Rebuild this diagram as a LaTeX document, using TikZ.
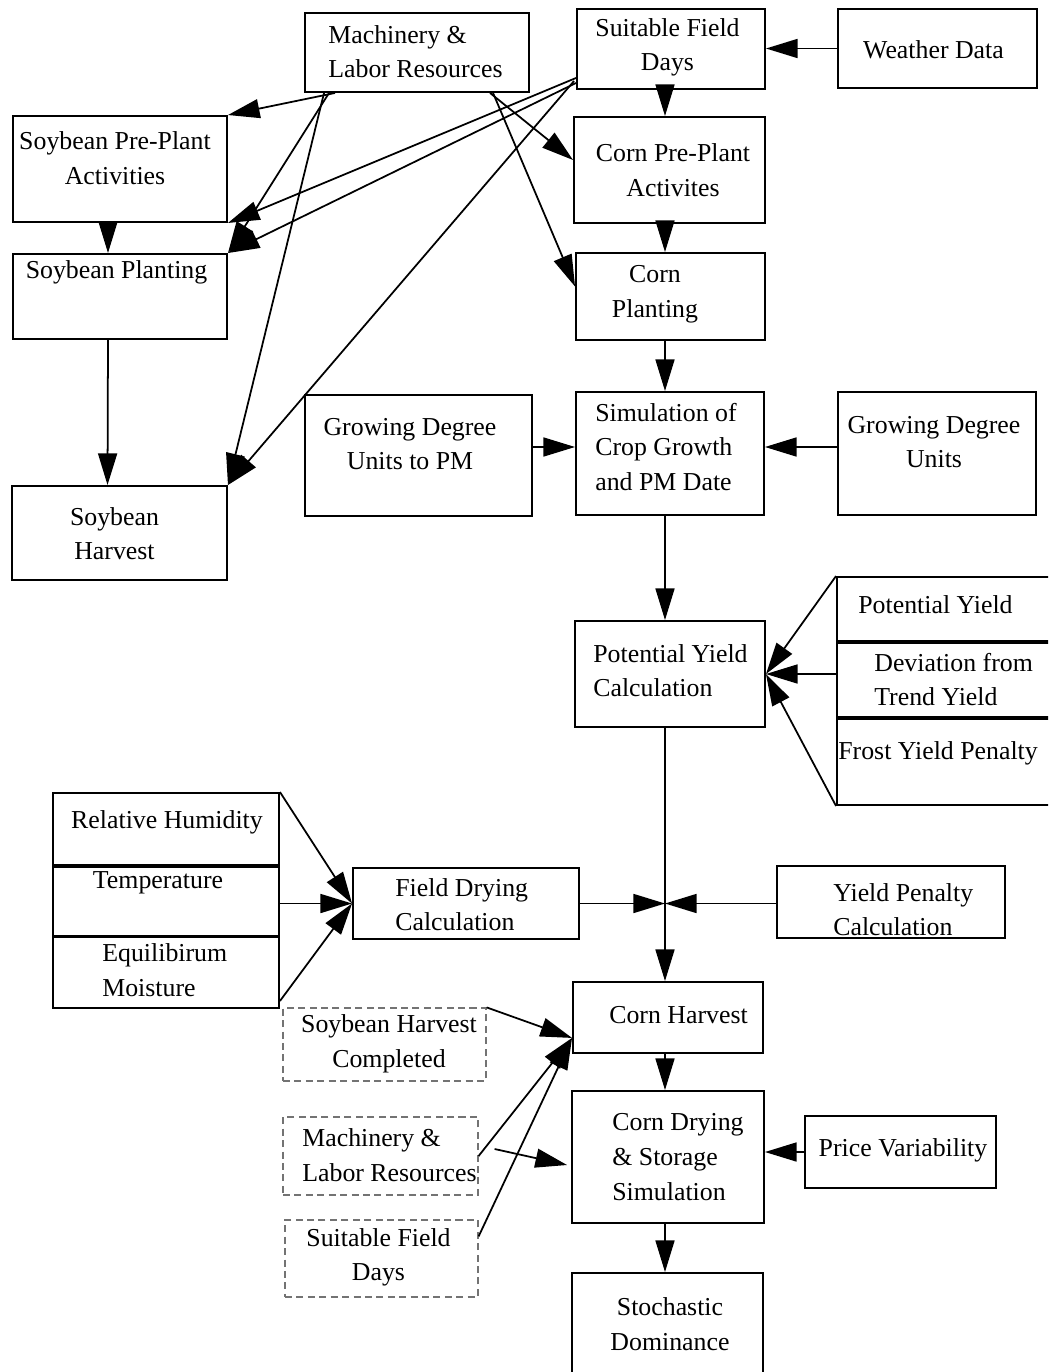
\documentclass[tikz,border=0pt]{standalone}
\usepackage{fontspec}
\setmainfont{Liberation Serif}
\usetikzlibrary{arrows.meta,fit,calc}

\tikzset{
    box/.style={draw, line width=1.1pt, inner sep=0pt},
    dbox/.style={draw=black!55, line width=0.7pt, dash pattern=on 4pt off 2.5pt, inner sep=0pt},
    txt/.style={inner sep=0pt, font=\fontsize{14.7}{19.7}\selectfont},
    ltxt/.style={txt, anchor=west, align=left},
    ctxt/.style={txt, align=center},
    arr/.style={line width=1pt, -{Triangle[length=18pt,width=10.8pt]}}
}

\begin{document}
\begin{tikzpicture}[
    x=0.02cm,
    y=-0.02cm
]

\useasboundingbox (0,0) rectangle (1048,1372);
\clip (0,0) rectangle (1048,1372);

% Boxes: name, corners x1/y1/x2/y2
\foreach \n/\xa/\ya/\xb/\yb in {
    mach/305/13/529/92,
    sfd/577/9/765/89,
    wd/838/9/1037/88,
    spp/13/116/227/222,
    cpp/574/117/765/223,
    sp/13/254/227/339,
    cp/576/253/765/340,
    gdupm/305/395/532/516,
    sim/576/392/764/515,
    gdu/838/392/1036/515,
    sh/12/486/227/580,
    pyc/575/621/765/727,
    py/837/577/1070/641,
    dev/837/643/1070/717,
    frost/837/719/1070/805,
    rh/53/793/279/865,
    temp/53/867/279/936,
    eq/53/937/279/1008,
    fd/353/868/579/939,
    yp/777/866/1005/938,
    ch/573/982/763/1053,
    cd/572/1091/764/1223,
    pv/805/1116/996/1188,
    sd/572/1273/763/1400
} {
    \node[box, fit={(\xa,\ya) (\xb,\yb)}] (\n) {};
}

% Dashed boxes
\foreach \n/\xa/\ya/\xb/\yb in {
    shc/283/1008/486/1081,
    mld/283/1117/478/1195,
    sfdd/285/1220/478/1297
} {
    \node[dbox, fit={(\xa,\ya) (\xb,\yb)}] (\n) {};
}

% Texts
\node[ltxt] (mach-t) at (328,51.5) {Machinery \&\\Labor Resources};
\node[ctxt] (sfd-t) at (667.5,47.5) {Suitable Field\\Days};
\node[ctxt] (wd-t) at (933.5,50) {Weather Data};
\node[ctxt] (spp-t) at (115,158) {Soybean Pre-Plant\\Activities};
\node[ctxt] (cpp-t) at (673,170) {Corn Pre-Plant\\Activites};
\node[ctxt] (sp-t) at (116.5,272) {Soybean Planting};
\node[ctxt] (cp-t) at (655,294.5) {Corn\\Planting};
\node[ctxt] (gdupm-t) at (410,444) {Growing Degree\\Units to PM};
\node[ltxt] (sim-t) at (595,447) {Simulation of\\Crop Growth\\and PM Date};
\node[ctxt] (gdu-t) at (934,442) {Growing Degree\\Units};
\node[ctxt] (sh-t) at (114.5,533.5) {Soybean\\Harvest};
\node[ltxt] (pyc-t) at (593,670.5) {Potential Yield\\Calculation};
\node[ltxt] (py-t) at (858,605) {Potential Yield};
\node[ltxt] (dev-t) at (874,679.5) {Deviation from\\Trend Yield};
\node[ltxt] (frost-t) at (838,753) {Frost Yield Penalty};
\node[ctxt] (rh-t) at (167,822) {Relative Humidity};
\node[ctxt] (temp-t) at (158,883) {Temperature};
\node[ltxt] (eq-t) at (102,970) {Equilibirum\\Moisture};
\node[ltxt] (fd-t) at (395,904.5) {Field Drying\\Calculation};
\node[ltxt] (yp-t) at (833,909.5) {Yield Penalty\\Calculation};
\node[ctxt] (ch-t) at (678.5,1015) {Corn Harvest};
\node[ltxt] (cd-t) at (612,1157) {Corn Drying\\\& Storage\\Simulation};
\node[ctxt] (pv-t) at (903,1150) {Price Variability};
\node[ctxt] (sd-t) at (670,1324) {Stochastic\\Dominance};
\node[ctxt] (shc-t) at (389,1043.5) {Soybean Harvest\\Completed};
\node[ltxt] (mld-t) at (302,1155) {Machinery \&\\Labor Resources};
\node[ctxt] (sfdd-t) at (378.5,1257.5) {Suitable Field\\Days};

% Helper points
\coordinate (col) at (665,0);
\coordinate (gd) at (0,447);
\coordinate (jn) at (col |- fd.east);
\coordinate (chin) at ($(ch.south west)!0.22!(ch.north west)$);

% Soybean side
\draw[arr] ($(mach.south west)+(31,0)$) -- (spp.north east);
\draw[arr] ($(mach.south west)+(25,0)$) -- (sp.north east);
\draw[arr] ($(mach.south west)+(20,0)$) -- (sh.north east);
\draw[arr] ($(sfd.south west)+(0,-12)$) -- (spp.south east);
\draw[arr] ($(sfd.south west)+(0,-7)$) -- (sp.north east);
\draw[arr] ($(sfd.south west)+(-2,-9)$) -- (sh.north east);
\draw[arr] ([xshift=-0.24cm]spp.south) -- ([xshift=-0.24cm]sp.north);
\draw[arr] ([xshift=-0.24cm]sp.south) -- ([xshift=-0.24cm]sh.north);

% Corn side
\draw[arr] (wd.west) -- (wd.west -| sfd.east);
\draw[arr] ($(mach.south west)+(186,0)$) -- ([yshift=0.2cm]cpp.west);
\draw[arr] ($(mach.south west)+(189,0)$) -- ([yshift=0.2cm]cp.west);
\draw[arr] (col |- sfd.south) -- (col |- cpp.north);
\draw[arr] (col |- cpp.south) -- (col |- cp.north);
\draw[arr] (col |- cp.south) -- (col |- sim.north);
\draw[arr] (gdupm.east |- gd) -- (sim.west |- gd);
\draw[arr] (gdu.west |- gd) -- (sim.east |- gd);
\draw[arr] (col |- sim.south) -- (col |- pyc.north);

% Yield inputs
\draw[arr] (py.north west) -- (pyc.east);
\draw[arr] (dev.west |- pyc.east) -- (pyc.east);
\draw[arr] (frost.south west) -- (pyc.east);
\draw[arr] (col |- pyc.south) -- (col |- ch.north);

% Field drying
\draw[arr] (rh.north east) -- (fd.west);
\draw[arr] (temp.east |- fd.west) -- (fd.west);
\draw[arr] ([yshift=0.16cm]eq.south east) -- (fd.west);
\draw[arr] (fd.east) -- (jn);
\draw[arr] (yp.west |- jn) -- (jn);

% Harvest and storage
\draw[arr] (shc.north east) -- (chin);
\draw[arr] (mld.east) -- (chin);
\draw[arr] ($(sfdd.north east)+(0,17)$) -- (chin);
\draw[arr] ($(mld.east)+(16,-7)$) -- ($(cd.west)+(-4,8)$);
\draw[arr] (pv.west) -- (pv.west -| cd.east);
\draw[arr] (col |- ch.south) -- (col |- cd.north);
\draw[arr] (col |- cd.south) -- (col |- sd.north);

\end{tikzpicture}
\end{document}
